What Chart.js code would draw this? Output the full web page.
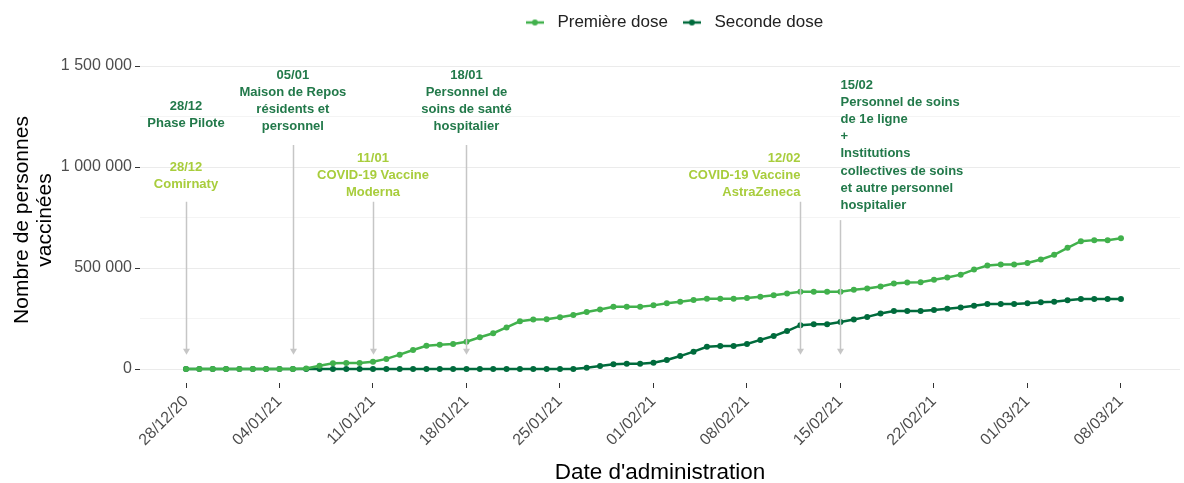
<!DOCTYPE html>
<html>
<head>
<meta charset="utf-8">
<script src="https://cdn.jsdelivr.net/npm/chart.js@4.4.1/dist/chart.umd.min.js"></script>
<style>
  html, body { margin: 0; padding: 0; background: #fff; }
</style>
</head>
<body>
<canvas id="chart" width="1184" height="483"></canvas>
<script>
// Dates d'administration (un point par jour)
const dates = [
  "28/12/20", "29/12/20", "30/12/20", "31/12/20",
  "01/01/21", "02/01/21", "03/01/21", "04/01/21", "05/01/21", "06/01/21", "07/01/21",
  "08/01/21", "09/01/21", "10/01/21", "11/01/21", "12/01/21", "13/01/21", "14/01/21",
  "15/01/21", "16/01/21", "17/01/21", "18/01/21", "19/01/21", "20/01/21", "21/01/21",
  "22/01/21", "23/01/21", "24/01/21", "25/01/21", "26/01/21", "27/01/21", "28/01/21",
  "29/01/21", "30/01/21", "31/01/21",
  "01/02/21", "02/02/21", "03/02/21", "04/02/21", "05/02/21", "06/02/21", "07/02/21",
  "08/02/21", "09/02/21", "10/02/21", "11/02/21", "12/02/21", "13/02/21", "14/02/21",
  "15/02/21", "16/02/21", "17/02/21", "18/02/21", "19/02/21", "20/02/21", "21/02/21",
  "22/02/21", "23/02/21", "24/02/21", "25/02/21", "26/02/21", "27/02/21", "28/02/21",
  "01/03/21", "02/03/21", "03/03/21", "04/03/21", "05/03/21", "06/03/21", "07/03/21",
  "08/03/21"
];

const premiereDose = [
  0, 0, 0, 0,
  0, 0, 0, 0, 0, 3000, 16000,
  28000, 30000, 30000, 36000, 50000, 71000, 94000,
  115000, 120000, 124000, 135000, 157000, 177000, 206000,
  236000, 245000, 246000, 256000, 267000, 282000, 295000,
  308000, 308000, 308000,
  315000, 325000, 333000, 342000, 348000, 348000, 348000,
  351000, 358000, 365000, 374000, 382000, 382000, 382000,
  383000, 392000, 398000, 408000, 423000, 428000, 430000,
  442000, 453000, 467000, 492000, 512000, 517000, 517000,
  525000, 542000, 565000, 600000, 633000, 638000, 638000,
  647000
];

const secondeDose = [
  0, 0, 0, 0,
  0, 0, 0, 0, 0, 0, 0,
  0, 0, 0, 0, 0, 0, 0,
  0, 0, 0, 0, 0, 0, 0,
  0, 0, 0, 0, 0, 6000, 15000,
  23000, 26000, 26000,
  31000, 45000, 64000, 86000, 110000, 114000, 114000,
  124000, 144000, 163000, 188000, 217000, 222000, 222000,
  233000, 245000, 258000, 275000, 287000, 287000, 287000,
  292000, 298000, 305000, 313000, 322000, 322000, 322000,
  325000, 330000, 333000, 340000, 347000, 347000, 347000,
  347000
];

const xTickLabels = ["28/12/20", "04/01/21", "11/01/21", "18/01/21", "25/01/21", "01/02/21",
  "08/02/21", "15/02/21", "22/02/21", "01/03/21", "08/03/21"];
const yTicks = [0, 250000, 500000, 750000, 1000000, 1250000, 1500000];

// Annotations : date de l'événement, hauteur du texte (en personnes), lignes
const events = [
  { date: "28/12/20", y: 1300000, type: "phase", align: "center", lines: ["28/12", "Phase Pilote"] },
  { date: "28/12/20", y: 1000000, type: "vaccin", align: "center", lines: ["28/12", "Comirnaty"] },
  { date: "05/01/21", y: 1455000, type: "phase", align: "center", lines: ["05/01", "Maison de Repos", "résidents et", "personnel"] },
  { date: "11/01/21", y: 1043000, type: "vaccin", align: "center", lines: ["11/01", "COVID-19 Vaccine", "Moderna"] },
  { date: "18/01/21", y: 1455000, type: "phase", align: "center", lines: ["18/01", "Personnel de", "soins de santé", "hospitalier"] },
  { date: "12/02/21", y: 1043000, type: "vaccin", align: "right", lines: ["12/02", "COVID-19 Vaccine", "AstraZeneca"] },
  { date: "15/02/21", y: 1406000, type: "phase", align: "left", lines: ["15/02", "Personnel de soins", "de 1e ligne", "+", "Institutions", "collectives de soins", "et autre personnel", "hospitalier"] }
];
const arrows = [
  { date: "28/12/20", from: 828000, to: 70000 },
  { date: "05/01/21", from: 1109000, to: 70000 },
  { date: "11/01/21", from: 828000, to: 70000 },
  { date: "18/01/21", from: 1109000, to: 70000 },
  { date: "12/02/21", from: 828000, to: 70000 },
  { date: "15/02/21", from: 737000, to: 70000 }
];

const colPremiere = "#41b14c";
const colSeconde = "#006b3c";
const colPhase = "#22794a";
const colVaccin = "#a8cd3c";
const colArrow = "#c6c6c6";

Chart.defaults.font.family = "'Liberation Sans', Arial, sans-serif";

const fmt = v => String(v).replace(/\B(?=(\d{3})+(?!\d))/g, " ");

function legendMark(color) {
  const c = document.createElement("canvas");
  c.width = 18; c.height = 8;
  const g = c.getContext("2d");
  g.strokeStyle = color; g.lineWidth = 2.5;
  g.beginPath(); g.moveTo(0, 4); g.lineTo(18, 4); g.stroke();
  g.fillStyle = color;
  g.beginPath(); g.arc(9, 4, 3, 0, Math.PI * 2); g.fill();
  return c;
}

const annotationsPlugin = {
  id: "annotations",
  afterLayout(chart) {
    // la légende est centrée un peu à droite du centre du panneau
    chart.legend.left += 12;
    chart.legend.right += 12;
  },
  afterDatasetsDraw(chart) {
    const { ctx, scales: { x, y } } = chart;
    ctx.save();
    arrows.forEach(a => {
      const px = Math.round(x.getPixelForValue(dates.indexOf(a.date))) + 0.5;
      const top = y.getPixelForValue(a.from);
      const bottom = y.getPixelForValue(a.to);
      ctx.strokeStyle = colArrow;
      ctx.lineWidth = 1.5;
      ctx.beginPath();
      ctx.moveTo(px, top);
      ctx.lineTo(px, bottom - 4);
      ctx.stroke();
      ctx.fillStyle = colArrow;
      ctx.beginPath();
      ctx.moveTo(px - 3.5, bottom - 6);
      ctx.lineTo(px + 3.5, bottom - 6);
      ctx.lineTo(px, bottom);
      ctx.closePath();
      ctx.fill();
    });
    ctx.font = "bold 13px 'Liberation Sans', Arial, sans-serif";
    ctx.textBaseline = "middle";
    events.forEach(e => {
      const px = x.getPixelForValue(dates.indexOf(e.date));
      const py = y.getPixelForValue(e.y);
      ctx.fillStyle = e.type === "phase" ? colPhase : colVaccin;
      ctx.textAlign = e.align;
      e.lines.forEach((l, i) => ctx.fillText(l, px, py + i * 17.2));
    });
    ctx.restore();
  }
};

const marks = [legendMark(colPremiere), legendMark(colSeconde)];

new Chart(document.getElementById("chart"), {
  type: "line",
  data: {
    datasets: [
      {
        label: "Première dose",
        data: premiereDose.map((v, i) => ({ x: i, y: v })),
        borderColor: colPremiere,
        backgroundColor: colPremiere,
        borderWidth: 2.5,
        pointRadius: 3,
        pointBorderWidth: 0,
        tension: 0
      },
      {
        label: "Seconde dose",
        data: secondeDose.map((v, i) => ({ x: i, y: v })),
        borderColor: colSeconde,
        backgroundColor: colSeconde,
        borderWidth: 2.5,
        pointRadius: 3,
        pointBorderWidth: 0,
        tension: 0
      }
    ]
  },
  options: {
    responsive: false,
    animation: false,
    devicePixelRatio: 1,
    layout: { padding: { top: 4, left: 0, right: 0, bottom: 0 } },
    plugins: {
      tooltip: { enabled: false },
      // espace vide entre la légende et le graphique
      subtitle: { display: true, text: " ", font: { size: 16, lineHeight: 1 }, padding: 0 },
      legend: {
        position: "top",
        fullSize: false,
        weight: 3000,
        labels: {
          usePointStyle: true,
          pointStyleWidth: 28,
          padding: 10,
          color: "#222",
          font: { size: 17 },
          generateLabels: chart => chart.data.datasets.map((ds, i) => ({
            text: ds.label,
            pointStyle: marks[i],
            fillStyle: ds.borderColor,
            strokeStyle: ds.borderColor,
            lineWidth: 0,
            hidden: false,
            datasetIndex: i,
            fontColor: "#222"
          }))
        }
      }
    },
    scales: {
      x: {
        type: "linear",
        min: -3.444,
        max: 74.42,
        afterBuildTicks: s => { s.ticks = xTickLabels.map(d => ({ value: dates.indexOf(d) })); },
        afterFit: s => { s.height = 100; },
        ticks: {
          autoSkip: false,
          minRotation: 45,
          maxRotation: 45,
          padding: 4,
          color: "#4d4d4d",
          font: { size: 16 },
          callback: v => dates[v]
        },
        grid: { drawOnChartArea: false, drawTicks: true, tickLength: 5, tickColor: "#333", tickWidth: 1 },
        border: { display: false },
        title: {
          display: true,
          text: "Date d'administration",
          color: "#000",
          font: { size: 22.5, lineHeight: 0.9 },
          padding: { top: 0, bottom: 0 }
        }
      },
      y: {
        min: -69300,
        max: 1544560,
        afterBuildTicks: s => { s.ticks = yTicks.map(v => ({ value: v })); },
        afterFit: s => { s.width = 140; },
        ticks: {
          padding: 3,
          color: "#4d4d4d",
          font: { size: 16 },
          callback: v => (v % 500000 === 0 ? fmt(v) : "")
        },
        grid: {
          color: c => (c.tick && c.tick.value % 500000 === 0 ? "#ebebeb" : "#f4f4f4"),
          tickColor: c => (c.tick && c.tick.value % 500000 === 0 ? "#333" : "rgba(0,0,0,0)"),
          tickLength: 5,
          lineWidth: 1
        },
        border: { display: false },
        title: {
          display: true,
          text: ["Nombre de personnes", "vaccinées"],
          color: "#000",
          font: { size: 21, lineHeight: 1.12 },
          padding: { top: 10, bottom: 0 }
        }
      }
    }
  },
  plugins: [annotationsPlugin]
});
</script>
</body>
</html>
